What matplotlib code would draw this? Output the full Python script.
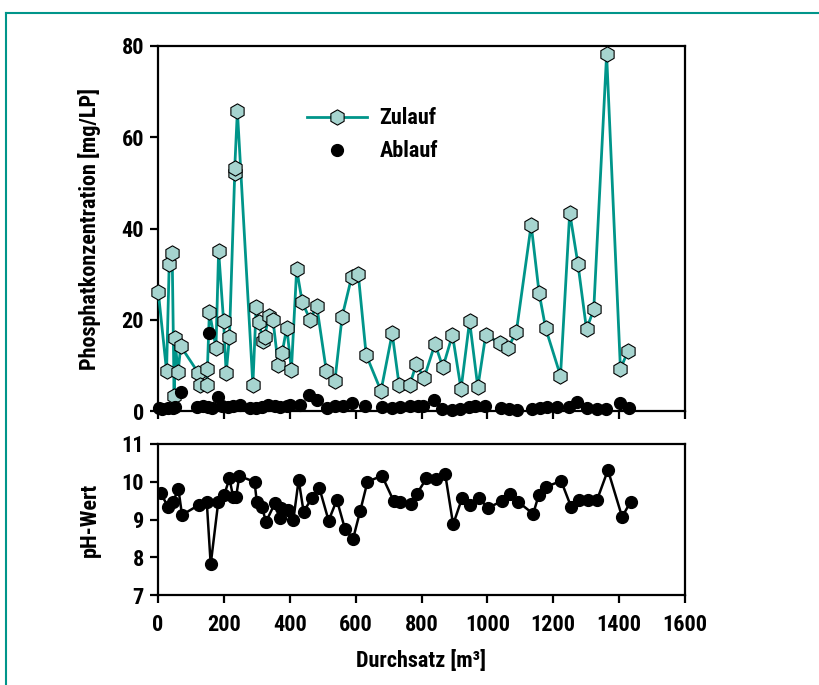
import matplotlib
matplotlib.use("Agg")
import matplotlib.pyplot as plt
from matplotlib import font_manager
from matplotlib.lines import Line2D

# ---------------- data ----------------
zulauf_x = [1, 26, 34, 43, 49, 51, 61, 69, 122, 126, 148, 150, 156, 176, 184, 199, 207, 217,
            233, 233, 241, 288, 298, 306, 320, 324, 336, 349, 365, 377, 391, 405, 421, 438,
            462, 482, 511, 537, 559, 588, 608, 632, 677, 711, 732, 764, 784, 808, 841, 865,
            894, 920, 946, 971, 995, 1039, 1062, 1088, 1133, 1157, 1177, 1222, 1250, 1275,
            1301, 1323, 1362, 1404, 1427]
zulauf_y = [26.0, 8.8, 32.2, 34.7, 3.3, 15.9, 8.5, 14.2, 8.4, 5.8, 5.7, 9.2, 21.8, 13.9, 35.1,
            19.8, 8.3, 16.3, 52.2, 53.3, 65.8, 5.8, 22.7, 19.4, 15.3, 16.3, 20.8, 20.0, 10.0,
            12.8, 18.3, 9.0, 31.1, 23.8, 20.0, 23.0, 8.8, 6.6, 20.7, 29.4, 30.0, 12.3, 4.4,
            17.0, 5.7, 5.6, 10.3, 7.3, 14.7, 9.6, 16.7, 4.8, 19.7, 5.2, 16.7, 14.8, 13.7,
            17.4, 40.8, 25.9, 18.1, 7.7, 43.5, 32.2, 17.9, 22.3, 78.2, 9.2, 13.2]

ablauf_x = [2, 12, 30, 45, 52, 69, 119, 137, 152, 154, 164, 182, 195, 213, 228, 249, 280, 298,
            316, 334, 356, 371, 392, 401, 432, 459, 482, 513, 538, 562, 589, 629, 680, 710,
            736, 766, 790, 805, 837, 863, 893, 918, 943, 963, 994, 1040, 1065, 1090, 1136,
            1161, 1182, 1212, 1247, 1272, 1303, 1333, 1359, 1404, 1430]
ablauf_y = [0.6, 0.5, 0.7, 0.6, 0.9, 4.2, 0.8, 1.0, 0.9, 17.2, 0.7, 3.1, 1.0, 0.8, 1.2, 1.4,
            0.6, 0.7, 0.8, 1.3, 1.1, 0.9, 1.2, 1.3, 1.3, 3.5, 2.4, 0.7, 1.0, 1.1, 1.8, 1.0,
            0.9, 0.7, 0.9, 1.0, 1.1, 1.1, 2.5, 0.4, 0.2, 0.4, 0.8, 1.0, 1.0, 0.6, 0.4, 0.2,
            0.4, 0.6, 0.8, 0.9, 0.8, 2.0, 0.6, 0.5, 0.5, 1.7, 0.6]

ph_x = [8, 31, 45, 62, 73, 123, 148, 160, 183, 201, 217, 228, 237, 247, 293, 300, 315, 328,
        356, 371, 373, 396, 411, 427, 442, 467, 490, 518, 543, 568, 592, 614, 636, 680, 715,
        736, 768, 786, 815, 845, 872, 896, 923, 948, 974, 1002, 1045, 1068, 1093, 1139,
        1156, 1179, 1224, 1254, 1278, 1305, 1333, 1366, 1409, 1435]
ph_y = [9.69, 9.34, 9.47, 9.80, 9.12, 9.38, 9.47, 7.81, 9.47, 9.65, 10.09, 9.60, 9.60, 10.15,
        10.0, 9.47, 9.34, 8.94, 9.45, 9.03, 9.30, 9.25, 8.99, 10.05, 9.21, 9.56, 9.83, 8.97,
        9.52, 8.74, 8.48, 9.23, 10.0, 10.16, 9.50, 9.47, 9.41, 9.68, 10.09, 10.07, 10.2,
        8.87, 9.56, 9.38, 9.56, 9.31, 9.49, 9.67, 9.47, 9.15, 9.65, 9.87, 10.02, 9.34, 9.52,
        9.52, 9.52, 10.31, 9.07, 9.47]

x_ticks = [0, 200, 400, 600, 800, 1000, 1200, 1400, 1600]
p_ticks = [0, 20, 40, 60, 80]
ph_ticks = [7, 8, 9, 10, 11]

# ---------------- style ----------------
available = {f.name for f in font_manager.fontManager.ttflist}
preferred = ['Liberation Sans Narrow', 'Roboto Condensed', 'Nimbus Sans Narrow',
             'Archivo Narrow', 'Asap Condensed']
family = [f for f in preferred if f in available][:1] + ['DejaVu Sans']
plt.rcParams['font.family'] = family
plt.rcParams['font.stretch'] = 'condensed'
plt.rcParams['font.weight'] = 'bold'
TEAL = '#00958A'
FACE = '#A6D4CF'
FS = 16

fig = plt.figure(figsize=(8.19, 6.85), dpi=100)
W, H = 819, 685

def frac(x0, y0, x1, y1):
    return [x0 / W, 1 - y1 / H, (x1 - x0) / W, (y1 - y0) / H]

ax1 = fig.add_axes(frac(158, 46, 685, 411))
ax2 = fig.add_axes(frac(158, 444, 685, 595))

# teal frame (left and top edges)
fig.add_artist(Line2D([6 / W, 1.0], [1 - 13 / H, 1 - 13 / H], color=TEAL, lw=1.5,
                      transform=fig.transFigure))
fig.add_artist(Line2D([6 / W, 6 / W], [0, 1 - 13 / H], color=TEAL, lw=1.5,
                      transform=fig.transFigure))

for ax in (ax1, ax2):
    for s in ax.spines.values():
        s.set_linewidth(1.6)
    ax.tick_params(direction='out', length=6, width=1.6, labelsize=FS, pad=4)
    ax.tick_params(axis='x', pad=8)
    ax.set_xlim(0, 1600)
    ax.set_xticks(x_ticks)

ax1.plot(zulauf_x, zulauf_y, '-', color=TEAL, lw=2.0, marker='h', ms=11,
         mfc=FACE, mec='black', mew=0.8, label='Zulauf', zorder=3, clip_on=False)
ax1.plot(ablauf_x, ablauf_y, 'o', color='black', ms=8.5, ls='none', label='Ablauf',
         zorder=4, clip_on=False)
ax1.set_ylim(0, 80)
ax1.set_yticks(p_ticks)
ax1.tick_params(axis='x', labelbottom=False)
ax1.set_ylabel('Phosphatkonzentration [mg/LP]', fontsize=FS, fontweight='bold')
ax1.yaxis.set_label_coords(-0.108, 0.5)
leg = ax1.legend(loc='upper left', bbox_to_anchor=(0.283, 0.832), frameon=False,
                 fontsize=FS, handlelength=2.7, handletextpad=0.55, labelspacing=0.5,
                 borderaxespad=0, borderpad=0)

ax2.plot(ph_x, ph_y, '-', color='black', lw=1.8, marker='o', ms=8.5, mfc='black',
         mec='black', zorder=3)
ax2.set_ylim(7, 11)
ax2.set_yticks(ph_ticks)
ax2.set_ylabel('pH-Wert', fontsize=FS, fontweight='bold')
ax2.yaxis.set_label_coords(-0.108, 0.5)
ax2.set_xlabel('Durchsatz [m³]', fontsize=FS, fontweight='bold', labelpad=10)

fig.savefig('out.png', dpi=100)
